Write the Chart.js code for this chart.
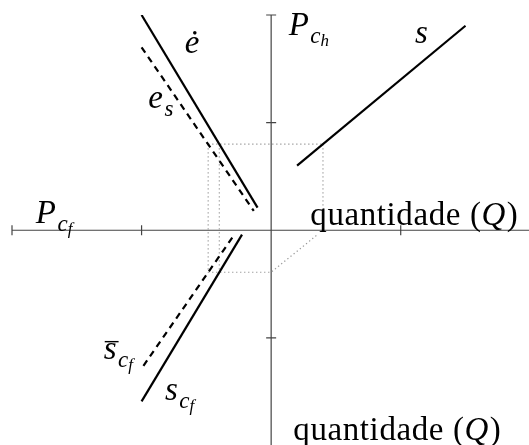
<!DOCTYPE html>
<html>
<head>
<meta charset="utf-8">
<script src="https://cdn.jsdelivr.net/npm/chart.js@4.4.1/dist/chart.umd.min.js"></script>
<style>
  html, body { margin: 0; padding: 0; background: #fff; }
  canvas { display: block; }
</style>
</head>
<body>
<canvas id="chart" width="529" height="445"></canvas>
<script>
// curves, in axis units (x = quantity, y = price)
const eDotX = [-1.0, -0.105];
const eDotY = [2.0, 0.21];
const esX = [-1.0, -0.134];
const esY = [1.70, 0.18];
const sX = [0.2, 1.5];
const sY = [0.6, 1.9];
const scfX = [-0.225, -1.0];
const scfY = [-0.04, -1.59];
const sbarX = [-0.30, -1.0];
const sbarY = [-0.068, -1.284];

// dotted guide lines
const guideTopX = [-0.486, 0.4];
const guideTopY = [0.8, 0.8];
const guideLeftX = [-0.486, -0.486, 0, 0.358];
const guideLeftY = [0.8, -0.39, -0.39, -0.04];
const guideMidX = [-0.4, -0.4];
const guideMidY = [0.8, -0.39];
const guideRightX = [0.4, 0.4];
const guideRightY = [0.8, 0.16];

const xTicks = [-2, -1, 0, 1, 2];
const yTicks = [-2, -1, 0, 1, 2];

// labels: anchor (left, baseline) in axis units; runs = [text, level, italic, overbar]
const labels = [
  { x: -0.666, y: 1.65, runs: [['ė', 0, true]] },
  { x: -0.948, y: 1.135, runs: [['e', 0, true], ['s', 1, true]] },
  { x: 0.135, y: 1.814, runs: [['P', 0, true], ['c', 1, true], ['h', 2, true]] },
  { x: 1.11, y: 1.737, runs: [['s', 0, true]] },
  { x: -1.816, y: 0.064, runs: [['P', 0, true], ['c', 1, true], ['f', 2, true]] },
  { x: 0.302, y: 0.048, runs: [['quantidade (', 0, false], ['Q', 0, true], [')', 0, false]] },
  { x: 0.171, y: -1.95, runs: [['quantidade (', 0, false], ['Q', 0, true], [')', 0, false]] },
  { x: -1.292, y: -1.2, runs: [['s', 0, true, true], ['c', 1, true], ['f', 2, true]] },
  { x: -0.820, y: -1.578, runs: [['s', 0, true], ['c', 1, true], ['f', 2, true]] }
];

const pts = (xs, ys) => xs.map((x, i) => ({ x: x, y: ys[i] }));

const solid = { borderColor: '#000', borderWidth: 2.2, showLine: true, pointRadius: 0, fill: false };
const dashed = { ...solid, borderDash: [6.5, 5] };
const dotted = { borderColor: '#999', borderWidth: 1.2, borderDash: [1.3, 2.7], showLine: true, pointRadius: 0, fill: false };

const crossAxes = {
  id: 'crossAxes',
  beforeDatasetsDraw(chart) {
    const { ctx, scales: { x, y } } = chart;
    const x0 = x.getPixelForValue(0);
    const y0 = y.getPixelForValue(0);
    ctx.save();
    ctx.strokeStyle = '#444';
    ctx.lineWidth = 1.2;
    ctx.beginPath();
    ctx.moveTo(x.getPixelForValue(x.min), y0);
    ctx.lineTo(x.getPixelForValue(x.max), y0);
    ctx.moveTo(x0, y.getPixelForValue(y.max));
    ctx.lineTo(x0, y.getPixelForValue(y.min));
    xTicks.forEach(v => {
      const px = x.getPixelForValue(v);
      ctx.moveTo(px, y0 - 5);
      ctx.lineTo(px, y0 + 5);
    });
    yTicks.forEach(v => {
      const py = y.getPixelForValue(v);
      ctx.moveTo(x0 - 5, py);
      ctx.lineTo(x0 + 5, py);
    });
    ctx.stroke();
    ctx.restore();
  }
};

const sizes = [33, 23, 17];
const shifts = [0, 8, 11];

const mathLabels = {
  id: 'mathLabels',
  afterDatasetsDraw(chart) {
    const { ctx, scales: { x, y } } = chart;
    ctx.save();
    ctx.fillStyle = '#000';
    ctx.textBaseline = 'alphabetic';
    labels.forEach(l => {
      let px = x.getPixelForValue(l.x);
      const py = y.getPixelForValue(l.y);
      l.runs.forEach(([t, lvl, it, bar]) => {
        ctx.font = (it ? 'italic ' : '') + sizes[lvl] + 'px "Liberation Serif"';
        ctx.letterSpacing = it ? '0px' : '0.6px';
        const w = ctx.measureText(t).width;
        ctx.fillText(t, px, py + shifts[lvl]);
        if (bar) {
          ctx.fillRect(px + 1, py - sizes[lvl] * 0.56, w + 1, 1.4);
        }
        px += w + (it && lvl === 0 ? 1.5 : 0);
      });
    });
    ctx.restore();
  }
};

new Chart(document.getElementById('chart'), {
  type: 'scatter',
  data: {
    datasets: [
      { ...solid, data: pts(eDotX, eDotY) },
      { ...dashed, data: pts(esX, esY) },
      { ...solid, data: pts(sX, sY) },
      { ...solid, data: pts(scfX, scfY) },
      { ...dashed, data: pts(sbarX, sbarY) },
      { ...dotted, data: pts(guideTopX, guideTopY) },
      { ...dotted, data: pts(guideLeftX, guideLeftY) },
      { ...dotted, data: pts(guideMidX, guideMidY) },
      { ...dotted, data: pts(guideRightX, guideRightY) }
    ]
  },
  options: {
    responsive: false,
    animation: false,
    devicePixelRatio: 1,
    layout: { padding: { left: 12, top: 15, right: 0, bottom: 0 } },
    scales: {
      x: { type: 'linear', min: -2, max: 1.99, display: false },
      y: { type: 'linear', min: -1.995, max: 2, display: false }
    },
    plugins: {
      legend: { display: false },
      tooltip: { enabled: false }
    }
  },
  plugins: [crossAxes, mathLabels]
});
</script>
</body>
</html>
